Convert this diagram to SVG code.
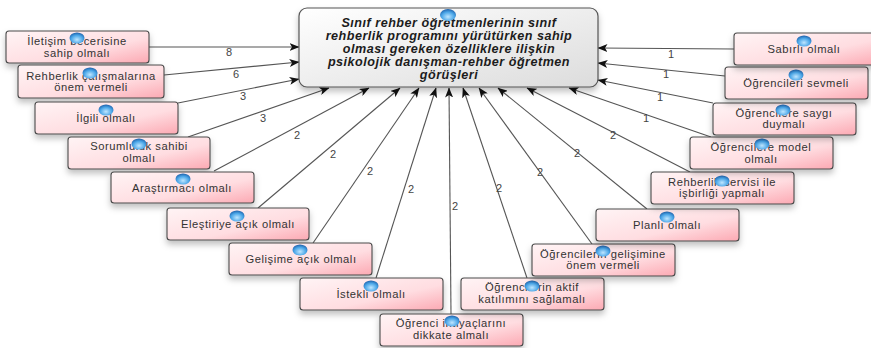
<svg xmlns="http://www.w3.org/2000/svg" width="871" height="348" viewBox="0 0 871 348">
<style>
.n{fill:url(#pink);stroke:#4a4a4a;stroke-width:1.1;filter:url(#sh)}
.t{font:11.2px "Liberation Sans",Arial,sans-serif;letter-spacing:.55px;fill:#333;text-anchor:middle}
.c{font:italic bold 12.6px "Liberation Sans",Arial,sans-serif;letter-spacing:.5px;fill:#1c1c1c;text-anchor:middle}
.b{fill:url(#blue)}
.l{font:11px "Liberation Sans",Arial,sans-serif;fill:#444;text-anchor:middle}
#connectors line{stroke:#555;stroke-width:1.1;marker-end:url(#a)}
</style>
<defs>
<linearGradient id="pink" x1="0" y1="0" x2="1" y2="1"><stop offset="0" stop-color="#fff4f5"/><stop offset=".6" stop-color="#ffdde1"/><stop offset="1" stop-color="#fca9b3"/></linearGradient>
<linearGradient id="grey" x1="0" y1="0" x2="1" y2="1"><stop offset="0" stop-color="#ffffff"/><stop offset="1" stop-color="#dcdcdc"/></linearGradient>
<radialGradient id="blue" cx=".5" cy=".65" r=".65"><stop offset="0" stop-color="#bfe6ff"/><stop offset=".6" stop-color="#4aa6e8"/><stop offset="1" stop-color="#1e5fa8"/></radialGradient>
<filter id="sh" x="-10%" y="-20%" width="120%" height="160%"><feDropShadow dx="0" dy="4" stdDeviation="3" flood-color="#000" flood-opacity=".25"/></filter>
<marker id="a" viewBox="0 0 10 8" refX="9.5" refY="4" markerWidth="10" markerHeight="8" markerUnits="userSpaceOnUse" orient="auto"><path d="M0 0L10 4L0 8L2.5 4Z" fill="#111"/></marker>
</defs>
<g id="connectors">
<line x1="149" y1="47" x2="299" y2="47"/>
<line x1="164" y1="75" x2="299" y2="62"/>
<line x1="178" y1="103" x2="299" y2="79"/>
<line x1="188" y1="137" x2="329" y2="88"/>
<line x1="214" y1="171" x2="369" y2="88"/>
<line x1="258" y1="208" x2="400" y2="88"/>
<line x1="313" y1="243" x2="419" y2="88"/>
<line x1="376" y1="278" x2="436" y2="88"/>
<line x1="451" y1="314" x2="449" y2="88"/>
<line x1="527" y1="278" x2="463" y2="88"/>
<line x1="592" y1="244" x2="479" y2="88"/>
<line x1="647" y1="209" x2="498" y2="88"/>
<line x1="690" y1="172" x2="527" y2="88"/>
<line x1="711" y1="137" x2="569" y2="88"/>
<line x1="713" y1="103" x2="598" y2="80"/>
<line x1="725" y1="76" x2="598" y2="63"/>
<line x1="734" y1="49" x2="598" y2="48"/>
</g>
<g id="labels">
<text class="l" x="229" y="56">8</text>
<text class="l" x="236" y="78">6</text>
<text class="l" x="243" y="100">3</text>
<text class="l" x="263" y="122">3</text>
<text class="l" x="297" y="139">2</text>
<text class="l" x="333" y="158">2</text>
<text class="l" x="370" y="175">2</text>
<text class="l" x="411" y="193">2</text>
<text class="l" x="455" y="210">2</text>
<text class="l" x="499" y="192">2</text>
<text class="l" x="540" y="176">2</text>
<text class="l" x="577" y="157">2</text>
<text class="l" x="613" y="139">2</text>
<text class="l" x="646" y="122">1</text>
<text class="l" x="660" y="101">1</text>
<text class="l" x="666" y="78">1</text>
<text class="l" x="671" y="58">1</text>
</g>
<g id="center">
<rect x="299" y="8" width="299" height="79" rx="8" fill="url(#grey)" stroke="#555" stroke-width="1.2" filter="url(#sh)"/>
<text class="c" x="449" y="27">Sınıf rehber öğretmenlerinin sınıf</text>
<text class="c" x="449" y="40">rehberlik programını yürütürken sahip</text>
<text class="c" x="449" y="53">olması gereken özelliklere ilişkin</text>
<text class="c" x="449" y="66">psikolojik danışman-rehber öğretmen</text>
<text class="c" x="449" y="79">görüşleri</text>
<ellipse class="b" cx="448" cy="15" rx="8" ry="6"/>
</g>
<g id="n1"><rect class="n" x="6" y="31" width="143" height="32" rx="3"/><text class="t" x="77" y="45">İletişim becerisine</text><text class="t" x="77" y="57">sahip olmalı</text><ellipse class="b" cx="77" cy="38" rx="7.5" ry="5.5"/></g>
<g id="n2"><rect class="n" x="18" y="65" width="146" height="33" rx="3"/><text class="t" x="91" y="80">Rehberlik çalışmalarına</text><text class="t" x="91" y="91">önem vermeli</text><ellipse class="b" cx="90" cy="73" rx="7.5" ry="5.5"/></g>
<g id="n3"><rect class="n" x="35" y="102" width="143" height="32" rx="3"/><text class="t" x="106" y="122">İlgili olmalı</text><ellipse class="b" cx="106" cy="110" rx="7.5" ry="5.5"/></g>
<g id="n4"><rect class="n" x="68" y="137" width="142" height="32" rx="3"/><text class="t" x="139" y="150">Sorumluluk sahibi</text><text class="t" x="139" y="162">olmalı</text><ellipse class="b" cx="139" cy="144" rx="7.5" ry="5.5"/></g>
<g id="n5"><rect class="n" x="111" y="172" width="143" height="31" rx="3"/><text class="t" x="182" y="192">Araştırmacı olmalı</text><ellipse class="b" cx="183" cy="179" rx="7.5" ry="5.5"/></g>
<g id="n6"><rect class="n" x="167" y="208" width="142" height="32" rx="3"/><text class="t" x="238" y="228">Eleştiriye açık olmalı</text><ellipse class="b" cx="237" cy="216" rx="7.5" ry="5.5"/></g>
<g id="n7"><rect class="n" x="229" y="243" width="143" height="32" rx="3"/><text class="t" x="301" y="263">Gelişime açık olmalı</text><ellipse class="b" cx="300" cy="250" rx="7.5" ry="5.5"/></g>
<g id="n8"><rect class="n" x="300" y="278" width="143" height="32" rx="3"/><text class="t" x="371" y="298">İstekli olmalı</text><ellipse class="b" cx="371" cy="286" rx="7.5" ry="5.5"/></g>
<g id="n9"><rect class="n" x="380" y="314" width="143" height="32" rx="3"/><text class="t" x="451" y="327">Öğrenci ihtiyaçlarını</text><text class="t" x="451" y="339">dikkate almalı</text><ellipse class="b" cx="452" cy="321" rx="7.5" ry="5.5"/></g>
<g id="n10"><rect class="n" x="461" y="278" width="143" height="32" rx="3"/><text class="t" x="532" y="291">Öğrencilerin aktif</text><text class="t" x="532" y="303">katılımını sağlamalı</text><ellipse class="b" cx="532" cy="286" rx="7.5" ry="5.5"/></g>
<g id="n11"><rect class="n" x="532" y="244" width="143" height="32" rx="3"/><text class="t" x="603" y="258">Öğrencilerin gelişimine</text><text class="t" x="603" y="269">önem vermeli</text><ellipse class="b" cx="603" cy="251" rx="7.5" ry="5.5"/></g>
<g id="n12"><rect class="n" x="596" y="209" width="143" height="32" rx="3"/><text class="t" x="667" y="229">Planlı olmalı</text><ellipse class="b" cx="667" cy="217" rx="7.5" ry="5.5"/></g>
<g id="n13"><rect class="n" x="651" y="172" width="143" height="32" rx="3"/><text class="t" x="722" y="186">Rehberlik servisi ile</text><text class="t" x="722" y="197">işbirliği yapmalı</text><ellipse class="b" cx="722" cy="181" rx="7.5" ry="5.5"/></g>
<g id="n14"><rect class="n" x="690" y="137" width="143" height="32" rx="3"/><text class="t" x="761" y="151">Öğrencilere model</text><text class="t" x="761" y="163">olmalı</text><ellipse class="b" cx="762" cy="144" rx="7.5" ry="5.5"/></g>
<g id="n15"><rect class="n" x="713" y="103" width="143" height="32" rx="3"/><text class="t" x="784" y="117">Öğrencilere saygı</text><text class="t" x="784" y="128">duymalı</text><ellipse class="b" cx="783" cy="110" rx="7.5" ry="5.5"/></g>
<g id="n16"><rect class="n" x="725" y="67" width="143" height="32" rx="3"/><text class="t" x="796" y="87">Öğrencileri sevmeli</text><ellipse class="b" cx="796" cy="75" rx="7.5" ry="5.5"/></g>
<g id="n17"><rect class="n" x="734" y="33" width="143" height="32" rx="3"/><text class="t" x="804" y="53">Sabırlı olmalı</text><ellipse class="b" cx="804" cy="41" rx="7.5" ry="5.5"/></g>
</svg>
